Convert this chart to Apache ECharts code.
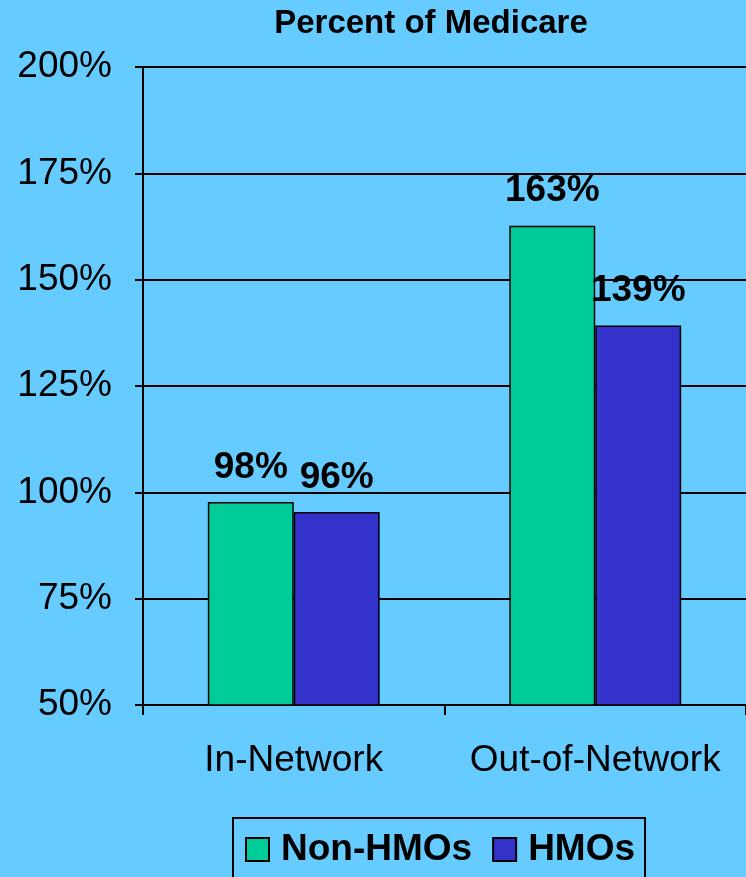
<!DOCTYPE html>
<html><head><meta charset="utf-8">
<script src="https://cdn.jsdelivr.net/npm/echarts@6/dist/echarts.min.js"></script>
<style>html,body{margin:0;padding:0;background:#66CCFF;}#c{width:746px;height:877px;}</style>
</head><body><div id="c"></div>
<script>
var categories = ['In-Network', 'Out-of-Network'];
var nonHmoValues = [97.7, 162.7];
var hmoValues = [95.4, 139.2];
var nonHmoLabels = ['98%', '163%'];
var hmoLabels = ['96%', '139%'];
var seriesNames = ['Non-HMOs', 'HMOs'];

var FONT = '"Liberation Sans", Arial, sans-serif';
var chart = echarts.init(document.getElementById('c'), null, {renderer: 'canvas'});
function lbl(arr) {
  return {show: true, position: 'top', distance: 16, color: '#000', fontFamily: FONT, fontWeight: 'bold', fontSize: 37,
    formatter: function (p) { return arr[p.dataIndex]; }};
}
chart.setOption({
  backgroundColor: '#66CCFF',
  animation: false,
  title: {text: 'Percent of Medicare', left: 426, textAlign: 'center', top: 2,
    textStyle: {fontFamily: FONT, fontWeight: 'bold', fontSize: 33, color: '#000'}},
  grid: {left: 143, right: -1, top: 67, bottom: 172, containLabel: false},
  legend: {
    data: seriesNames, left: 233, top: 818, padding: [13, 10, 16, 12], icon: 'rect',
    borderColor: '#000', borderWidth: 2, itemWidth: 23, itemHeight: 23, itemGap: 20,
    textStyle: {fontFamily: FONT, fontWeight: 'bold', fontSize: 37, color: '#000', padding: [0, 0, 0, 7]}
  },
  xAxis: {
    type: 'category', data: categories,
    axisLine: {lineStyle: {color: '#000', width: 2}},
    axisTick: {show: true, interval: 0, length: 10, lineStyle: {color: '#000', width: 2}},
    axisLabel: {interval: 0, hideOverlap: false, fontFamily: FONT, fontSize: 37, color: '#000', margin: 37}
  },
  yAxis: {
    type: 'value', min: 50, max: 200, interval: 25,
    axisLine: {show: true, lineStyle: {color: '#000', width: 2}},
    axisTick: {show: true, length: 8, lineStyle: {color: '#000', width: 2}},
    splitLine: {show: true, lineStyle: {color: '#000', width: 2}},
    axisLabel: {fontFamily: FONT, fontSize: 37, color: '#000', margin: 31,
      formatter: function (v) { return v + '%'; }}
  },
  series: [
    {name: seriesNames[0], type: 'bar', data: nonHmoValues, barGap: '0%', barCategoryGap: '43%',
      itemStyle: {color: '#00CC99', borderColor: '#000', borderWidth: 1.5}, label: lbl(nonHmoLabels)},
    {name: seriesNames[1], type: 'bar', data: hmoValues,
      itemStyle: {color: '#3333CC', borderColor: '#000', borderWidth: 1.5}, label: lbl(hmoLabels)}
  ]
});
</script></body></html>
